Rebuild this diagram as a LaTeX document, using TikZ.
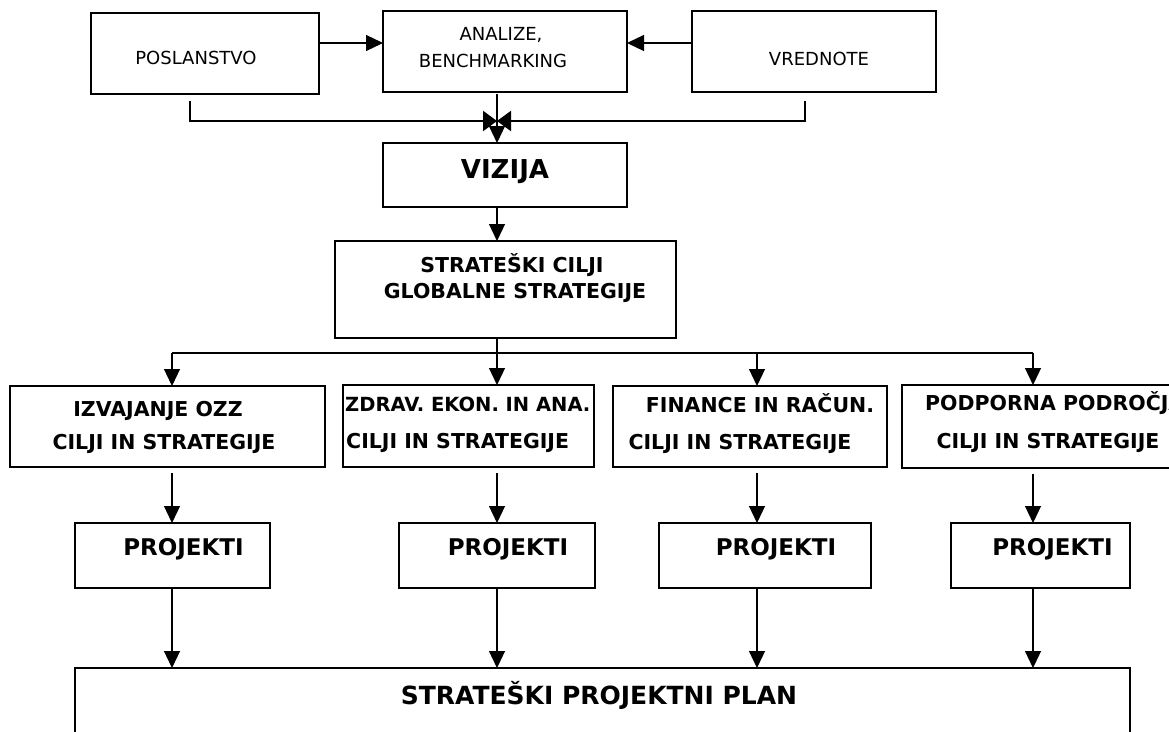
\documentclass[tikz,border=0pt]{standalone}
\usepackage{fontspec}
\setmainfont{DejaVu Sans}
\usetikzlibrary{arrows.meta,positioning}

\begin{document}
\begin{tikzpicture}[x=1pt,y=-1pt,
  box/.style={draw,line width=1.6pt,inner sep=0pt,outer sep=0pt,anchor=north west},
  lbl/.style={inner sep=0pt,anchor=base,font=\fontsize{18}{22}\selectfont},
  blbl/.style={inner sep=0pt,anchor=base,font=\fontsize{20.5}{24}\selectfont\bfseries},
  arr/.style={line width=1.2pt,-{Triangle[length=17pt,width=16pt]}},
  link/.style={line width=2.2pt}]
\useasboundingbox (0,0) rectangle (1169,731);
\clip (0,0) rectangle (1169,731);

% top row
\node[box,minimum width=228,minimum height=81] (pos) at (91,13) {};
\node[box,minimum width=244,minimum height=81] (ana) at (383,11) {};
\node[box,minimum width=244,minimum height=81] (vred) at (692,11) {};
\node[lbl] (posT) at (196,64.5) {POSLANSTVO};
\node[lbl] (anaT1) at (501,40) {ANALIZE,};
\node[lbl] (anaT2) at (493,67.5) {BENCHMARKING};
\node[lbl] (vredT) at (819,65) {VREDNOTE};

% vizija and global goals
\node[box,minimum width=244,minimum height=64] (viz) at (383,143) {};
\node[blbl,font=\fontsize{26}{30}\selectfont\bfseries] (vizT) at (505,178) {VIZIJA};
\node[box,minimum width=341,minimum height=97] (goal) at (335,241) {};
\node[blbl] (goalT1) at (512,272) {STRATEŠKI CILJI};
\node[blbl] (goalT2) at (515,298) {GLOBALNE STRATEGIJE};

% areas
\node[box,minimum width=315,minimum height=81] (izv) at (10,386) {};
\node[box,minimum width=251,minimum height=82] (zdr) at (343,385) {};
\node[box,minimum width=274,minimum height=81] (fin) at (613,386) {};
\node[box,minimum width=290,minimum height=83] (pod) at (902,385) {};
\node[blbl] (izvT1) at (158,416) {IZVAJANJE OZZ};
\node[blbl] (izvT2) at (164,449) {CILJI IN STRATEGIJE};
\node[blbl,anchor=base west,font=\fontsize{19.5}{24}\selectfont\bfseries] (zdrT1) at (345,411) {ZDRAV. EKON. IN ANA.};
\node[blbl,anchor=base west] (zdrT2) at (346,448) {CILJI IN STRATEGIJE};
\node[blbl] (finT1) at (760,412) {FINANCE IN RAČUN.};
\node[blbl] (finT2) at (740,449) {CILJI IN STRATEGIJE};
\node[blbl,anchor=base west] (podT1) at (925,410) {PODPORNA PODROČJA};
\node[blbl] (podT2) at (1048,448) {CILJI IN STRATEGIJE};

% projects
\foreach \n/\x/\w/\tx in {1/75/195/183.5,2/399/196/508,3/659/212/776,4/951/179/1052.5} {
  \node[box,minimum width=\w,minimum height=65] (pr\n) at (\x,523) {};
  \node[blbl,font=\fontsize{23}{27}\selectfont\bfseries] (prT\n) at (\tx,555) {PROJEKTI};
}

% plan
\node[box,minimum width=1055,minimum height=100] (plan) at (75,668) {};
\node[blbl,font=\fontsize{25}{29}\selectfont\bfseries] (planT) at (599,704) {STRATEŠKI PROJEKTNI PLAN};

\coordinate (lvl) at (0,43);
\coordinate (mid) at (497,0);
\coordinate (lb) at (190,101);
\coordinate (rb) at (805,101);
\coordinate (hub) at (497,121);
\coordinate (c1) at (172,353);
\coordinate (c2) at (497,353);
\coordinate (c3) at (757,353);
\coordinate (c4) at (1033,353);

\draw[arr] (pos.east |- lvl) -- (ana.west |- lvl);
\draw[arr] (vred.west |- lvl) -- (ana.east |- lvl);
\draw[arr] ([yshift=-2pt]ana.south -| mid) -- (viz.north -| mid);
\draw[link,-{Triangle[length=14pt,width=20pt]}] (lb) |- (hub);
\draw[link,-{Triangle[length=14pt,width=20pt]}] (rb) |- (hub);
\draw[arr] (viz.south -| mid) -- (goal.north -| mid);
\draw[link] (goal.south -| c2) -- (c2);
\draw[link] (c1) -- (c4);
\foreach \c/\b/\p in {c1/izv/pr1,c2/zdr/pr2,c3/fin/pr3,c4/pod/pr4} {
  \draw[arr] (\c) -- (\b.north -| \c);
  \draw[arr] ([yshift=-6pt]\b.south -| \c) -- (\p.north -| \c);
  \draw[arr] (\p.south -| \c) -- (plan.north -| \c);
}
\end{tikzpicture}
\end{document}
